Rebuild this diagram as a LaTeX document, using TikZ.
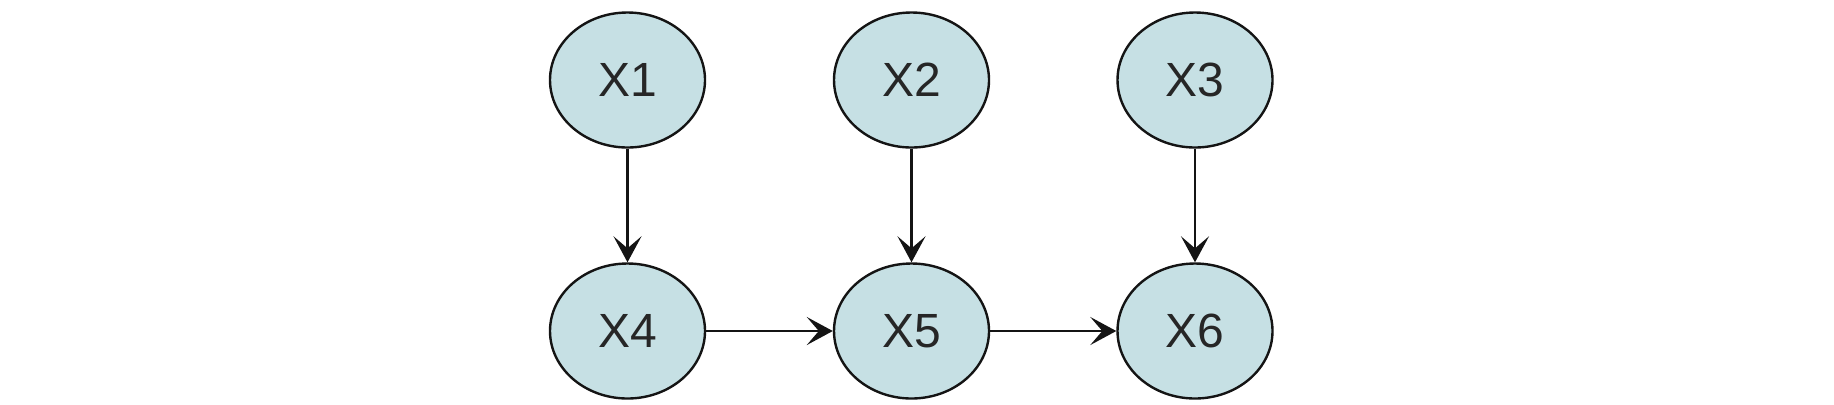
\documentclass[tikz,border=0pt]{standalone}
\usepackage{fontspec}
\setmainfont{Liberation Sans}
\usetikzlibrary{shapes.geometric,arrows.meta}
\definecolor{nodefill}{RGB}{198,224,228}
\definecolor{edgecol}{RGB}{20,20,20}
\tikzset{
  var/.style={ellipse, draw=edgecol, line width=1.2pt, fill=nodefill,
    minimum width=77.5pt, minimum height=67.5pt, inner sep=0pt,
    font=\fontsize{24}{28}\selectfont, text=black!85},
  link/.style={draw=edgecol, line width=1.3pt,
    -{Stealth[length=13pt,width=14pt,inset=6pt]}}
}
\begin{document}
\begin{tikzpicture}[x=0.5pt,y=-0.5pt]
\useasboundingbox (0,0) rectangle (1834,404);
\node[var] (x1) at (627.5,80) {X1};
\node[var] (x2) at (911.5,80) {X2};
\node[var] (x3) at (1195,80) {X3};
\node[var] (x4) at (627.5,331) {X4};
\node[var] (x5) at (911.5,331) {X5};
\node[var] (x6) at (1195,331) {X6};
\draw[link] (x1) -- (x4);
\draw[link] (x2) -- (x5);
\draw[link] (x3) -- (x6);
\draw[link] (x4) -- (x5);
\draw[link] (x5) -- (x6);
\end{tikzpicture}
\end{document}
